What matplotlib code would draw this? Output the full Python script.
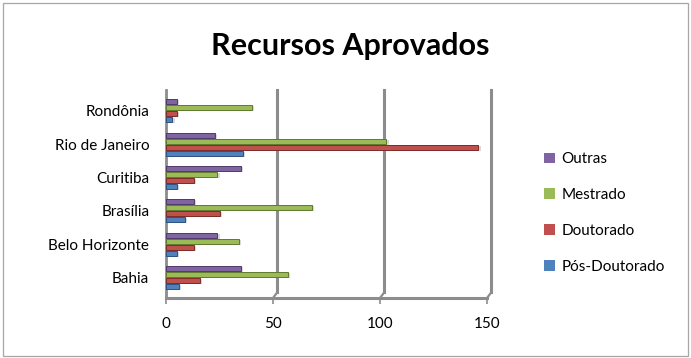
import matplotlib
matplotlib.use("Agg")
import matplotlib.pyplot as plt
import numpy as np
from matplotlib.patches import Rectangle, Patch

plt.rcParams['font.family'] = ['Lato', 'DejaVu Sans']

categories = ["Bahia", "Belo Horizonte", "Brasília", "Curitiba", "Rio de Janeiro", "Rondônia"]
pos_doutorado = [6, 5, 9, 5, 36, 3]
doutorado = [16, 13, 25, 13, 146, 5]
mestrado = [57, 34, 68, 24, 103, 40]
outras = [35, 24, 13, 35, 23, 5]
x_ticks = [0, 50, 100, 150]

series = [
    ("Pós-Doutorado", pos_doutorado, "#4F81BD", "#2c5282"),
    ("Doutorado", doutorado, "#C0504D", "#7d2a28"),
    ("Mestrado", mestrado, "#9BBB59", "#5f7a2c"),
    ("Outras", outras, "#8064A2", "#4e3a68"),
]

fig = plt.figure(figsize=(6.91, 3.58), dpi=100)
fig.patches.append(Rectangle((0.004, 0.006), 0.991, 0.986, transform=fig.transFigure,
                             fill=False, edgecolor="#a6a6a6", linewidth=0.9))

ax = fig.add_axes([166 / 691, 60 / 358, 321 / 691, 208 / 358])
ax.set_xlim(0, 150)
ax.set_ylim(-0.62, 5.62)

y = np.arange(len(categories))
bar_h = 0.15
pitch = 0.18
offsets = [-1.5 * pitch, -0.5 * pitch, 0.5 * pitch, 1.5 * pitch]

# back-wall gridlines
for t in x_ticks[1:]:
    ax.plot([t + 2, t + 2], [-0.45, 5.62], color="#8c8c8c", lw=2.2, zorder=1, clip_on=False)
    ax.plot([t, t + 2], [-0.62, -0.45], color="#8c8c8c", lw=1.6, zorder=1, clip_on=False)
# left wall and floor
ax.plot([0, 0], [-0.62, 5.62], color="#8c8c8c", lw=2.0, zorder=1, clip_on=False)
ax.plot([0, 150], [-0.62, -0.62], color="#8c8c8c", lw=2.2, zorder=1, clip_on=False)

for (name, vals, col, edge), off in zip(series, offsets):
    # soft shadow under each bar
    ax.barh(y + off - 0.035, vals, height=bar_h, left=1.0, color="#bfbfbf", alpha=0.6,
            linewidth=0, zorder=2)
    ax.barh(y + off, vals, height=bar_h, color=col, edgecolor=edge, linewidth=0.7, zorder=3)

for s in ax.spines.values():
    s.set_visible(False)
ax.set_yticks(y)
ax.set_yticklabels(categories, fontsize=11)
ax.set_xticks(x_ticks)
ax.set_xticklabels([str(t) for t in x_ticks], fontsize=11)
ax.tick_params(axis="y", length=0, pad=12)
ax.tick_params(axis="x", length=4, color="#8c8c8c", width=1.2, pad=10)

fig.text(0.507, 0.872, "Recursos Aprovados", ha="center", va="center",
         fontsize=22, fontweight="bold")

handles = [Patch(facecolor=c, edgecolor="none") for _, _, c, _ in series][::-1]
labels = [n for n, _, _, _ in series][::-1]
fig.legend(handles, labels, loc="center left", bbox_to_anchor=(0.768, 0.405), frameon=False,
           fontsize=11, handlelength=0.7, handleheight=0.7, handletextpad=0.4,
           labelspacing=1.42)

fig.savefig("out.png", dpi=100)
